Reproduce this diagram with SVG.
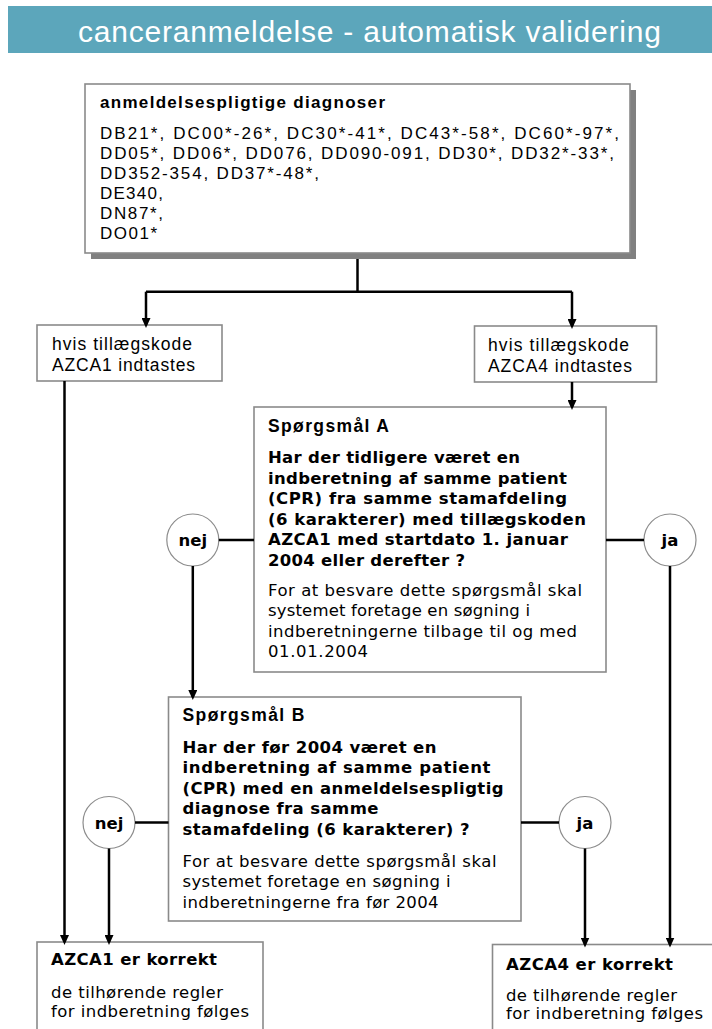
<svg xmlns="http://www.w3.org/2000/svg" width="712" height="1029" viewBox="0 0 712 1029">
<style>
.box{fill:#fff;stroke:#8a8a8a;stroke-width:1.6}
.shadow{fill:#808080}
.circ{fill:#fff;stroke:#8c8c8c;stroke-width:1.2}
.ln{fill:none;stroke:#000;stroke-width:2.5}
.t{font-family:"Liberation Sans",Arial,sans-serif;font-size:17px;fill:#000}
.tb{font-family:"Liberation Sans",Arial,sans-serif;font-size:17px;font-weight:bold;fill:#000}
.s{font-family:"Liberation Sans",Arial,sans-serif;font-size:17.5px;fill:#000}
.h{font-family:"Liberation Sans",Arial,sans-serif;font-size:17.5px;font-weight:bold;fill:#000}
.q{font-family:"DejaVu Sans",Verdana,sans-serif;font-size:16.5px;font-weight:bold;fill:#000}
.n{font-family:"DejaVu Sans",Verdana,sans-serif;font-size:16.5px;fill:#000}
.c{font-family:"DejaVu Sans",Verdana,sans-serif;font-size:16.5px;font-weight:bold;fill:#000;text-anchor:middle}
.title{font-family:"Liberation Sans",Arial,sans-serif;font-size:30px;fill:#fff}
</style>
<defs>
<marker id="arr" viewBox="0 0 10 9" refX="7" refY="4.5" markerWidth="10" markerHeight="9" markerUnits="userSpaceOnUse" orient="auto">
<path d="M0,0 L10,4.5 L0,9 z" fill="#000"/>
</marker>
</defs>

<g id="header">
<rect x="8" y="6" width="704" height="47" fill="#5ca6bb"/>
<text class="title" x="78" y="42" textLength="583">canceranmeldelse - automatisk validering</text>
</g>

<g id="diagnoses">
<rect class="shadow" x="91" y="90" width="545" height="169"/>
<rect class="box" x="85" y="84" width="545" height="169"/>
<text class="tb" x="100" y="108" textLength="285">anmeldelsespligtige diagnoser</text>
<text class="t" x="100" y="139" textLength="519">DB21*, DC00*-26*, DC30*-41*, DC43*-58*, DC60*-97*,</text>
<text class="t" x="100" y="159" textLength="514">DD05*, DD06*, DD076, DD090-091, DD30*, DD32*-33*,</text>
<text class="t" x="100" y="179" textLength="219">DD352-354, DD37*-48*,</text>
<text class="t" x="100" y="199" textLength="63">DE340,</text>
<text class="t" x="100" y="219" textLength="63">DN87*,</text>
<text class="t" x="100" y="239" textLength="57">DO01*</text>
</g>

<g id="azca1-input">
<rect class="box" x="37" y="325" width="185" height="56"/>
<text class="s" x="52" y="350" textLength="140">hvis tillægskode</text>
<text class="s" x="52" y="370.5" textLength="143">AZCA1 indtastes</text>
</g>

<g id="azca4-input">
<rect class="box" x="474.5" y="326" width="182" height="56"/>
<text class="s" x="488" y="351" textLength="141">hvis tillægskode</text>
<text class="s" x="488" y="371.5" textLength="144">AZCA4 indtastes</text>
</g>

<g id="question-a">
<rect class="box" x="254" y="407" width="352" height="265"/>
<text class="h" x="268" y="432" textLength="121">Spørgsmål A</text>
<text class="q" x="268" y="463" textLength="252">Har der tidligere været en</text>
<text class="q" x="268" y="483.5" textLength="299">indberetning af samme patient</text>
<text class="q" x="268" y="504" textLength="299">(CPR) fra samme stamafdeling</text>
<text class="q" x="268" y="524.5" textLength="318">(6 karakterer) med tillægskoden</text>
<text class="q" x="268" y="545" textLength="300">AZCA1 med startdato 1. januar</text>
<text class="q" x="268" y="565.5" textLength="197">2004 eller derefter ?</text>
<text class="n" x="268" y="595.5" textLength="314">For at besvare dette spørgsmål skal</text>
<text class="n" x="268" y="616" textLength="262">systemet foretage en søgning i</text>
<text class="n" x="268" y="636.5" textLength="309">indberetningerne tilbage til og med</text>
<text class="n" x="268" y="657" textLength="100">01.01.2004</text>
</g>

<g id="question-b">
<rect class="box" x="168.5" y="697" width="352.5" height="224"/>
<text class="h" x="182.5" y="721" textLength="122">Spørgsmål B</text>
<text class="q" x="182.5" y="752.5" textLength="254">Har der før 2004 været en</text>
<text class="q" x="182.5" y="773" textLength="308">indberetning af samme patient</text>
<text class="q" x="182.5" y="793.5" textLength="321">(CPR) med en anmeldelsespligtig</text>
<text class="q" x="182.5" y="814" textLength="196">diagnose fra samme</text>
<text class="q" x="182.5" y="834.5" textLength="287">stamafdeling (6 karakterer) ?</text>
<text class="n" x="182.5" y="866.5" textLength="314">For at besvare dette spørgsmål skal</text>
<text class="n" x="182.5" y="887" textLength="268">systemet foretage en søgning i</text>
<text class="n" x="182.5" y="907.5" textLength="256">indberetningerne fra før 2004</text>
</g>

<g id="nej-a">
<circle class="circ" cx="192.8" cy="540" r="26"/>
<text class="c" x="192.8" y="546">nej</text>
</g>
<g id="ja-a">
<circle class="circ" cx="670" cy="540" r="26"/>
<text class="c" x="670" y="546">ja</text>
</g>
<g id="nej-b">
<circle class="circ" cx="109" cy="822.5" r="26"/>
<text class="c" x="109" y="828.5">nej</text>
</g>
<g id="ja-b">
<circle class="circ" cx="585" cy="822.5" r="26"/>
<text class="c" x="585" y="828.5">ja</text>
</g>

<g id="azca1-ok">
<rect class="box" x="37" y="942" width="226" height="100"/>
<text class="q" x="51" y="965" textLength="166">AZCA1 er korrekt</text>
<text class="n" x="51" y="998" textLength="172">de tilhørende regler</text>
<text class="n" x="51" y="1017" textLength="198">for indberetning følges</text>
</g>

<g id="azca4-ok">
<rect class="box" x="492.5" y="944.5" width="240" height="100"/>
<text class="q" x="506" y="970" textLength="167">AZCA4 er korrekt</text>
<text class="n" x="506" y="1000.5" textLength="171">de tilhørende regler</text>
<text class="n" x="506" y="1018.5" textLength="197">for indberetning følges</text>
</g>

<g id="connectors">
<path class="ln" d="M357.5,259 V291.7"/>
<path class="ln" d="M146,291.7 H572"/>
<path class="ln" d="M146,291.7 V325" marker-end="url(#arr)"/>
<path class="ln" d="M572,291.7 V326" marker-end="url(#arr)"/>
<path class="ln" d="M572,382 V407" marker-end="url(#arr)"/>
<path class="ln" d="M64.5,381 V942" marker-end="url(#arr)"/>
<path class="ln" d="M218.8,540 H254"/>
<path class="ln" d="M606,540 H644"/>
<path class="ln" d="M192.8,566 V697" marker-end="url(#arr)"/>
<path class="ln" d="M670,566 V944.5" marker-end="url(#arr)"/>
<path class="ln" d="M135,822.5 H168.5"/>
<path class="ln" d="M521,822.5 H559"/>
<path class="ln" d="M109,848.5 V942" marker-end="url(#arr)"/>
<path class="ln" d="M585,848.5 V944.5" marker-end="url(#arr)"/>
</g>
</svg>
